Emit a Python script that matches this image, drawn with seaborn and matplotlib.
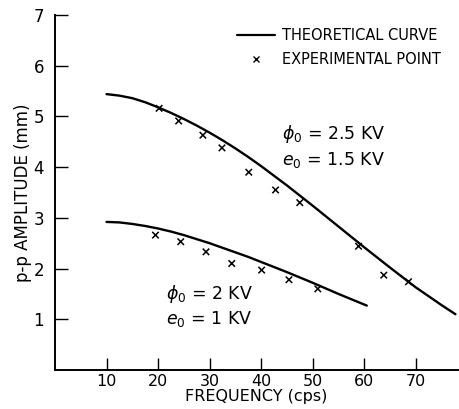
import matplotlib
matplotlib.use("Agg")
import matplotlib.pyplot as plt
import matplotlib.patheffects as pe
from matplotlib.lines import Line2D
import pandas as pd
import seaborn as sns

sns.set_style("ticks")
plt.rcParams['font.family'] = ['DejaVu Sans']
plt.rcParams['mathtext.fontset'] = 'dejavusans'
plt.rcParams['text.color'] = 'black'
plt.rcParams['axes.labelcolor'] = 'black'
plt.rcParams['xtick.color'] = 'black'
plt.rcParams['ytick.color'] = 'black'

# theoretical curves
upper_freq = [10, 12.5, 15, 17.5, 20, 22.5, 25, 27.5, 30, 32.5, 35, 37.5, 40,
              45, 50, 55, 60, 65, 70, 75, 77.7]
upper_amp = [5.44, 5.41, 5.36, 5.28, 5.18, 5.07, 4.95, 4.82, 4.68, 4.53, 4.37,
             4.2, 4.02, 3.64, 3.24, 2.83, 2.42, 2.02, 1.63, 1.28, 1.1]
lower_freq = [10, 12.5, 15, 17.5, 20, 22.5, 25, 27.5, 30, 32.5, 35, 37.5, 40,
              45, 50, 55, 60.5]
lower_amp = [2.92, 2.91, 2.88, 2.84, 2.79, 2.73, 2.66, 2.58, 2.5, 2.41, 2.32,
             2.23, 2.13, 1.93, 1.72, 1.5, 1.27]

# experimental points
upper_pts_freq = [20.2, 24, 28.7, 32.4, 37.6, 42.8, 47.5, 58.9, 63.8, 68.6]
upper_pts_amp = [5.16, 4.91, 4.63, 4.38, 3.9, 3.55, 3.3, 2.44, 1.87, 1.74]
lower_pts_freq = [19.5, 24.4, 29.3, 34.3, 40.1, 45.4, 51]
lower_pts_amp = [2.66, 2.53, 2.33, 2.1, 1.97, 1.78, 1.6]

x_ticks = [10, 20, 30, 40, 50, 60, 70]
y_ticks = [1, 2, 3, 4, 5, 6, 7]

curves = pd.concat([
    pd.DataFrame({'freq': upper_freq, 'amp': upper_amp, 'set': 'upper'}),
    pd.DataFrame({'freq': lower_freq, 'amp': lower_amp, 'set': 'lower'}),
])
points = pd.concat([
    pd.DataFrame({'freq': upper_pts_freq, 'amp': upper_pts_amp}),
    pd.DataFrame({'freq': lower_pts_freq, 'amp': lower_pts_amp}),
])

fig = plt.figure(figsize=(4.59, 4.09), dpi=100)
ax = fig.add_axes([55 / 459, 1 - 370 / 409, 403 / 459, 355 / 409])

for name, grp in curves.groupby('set'):
    sns.lineplot(data=grp, x='freq', y='amp', ax=ax, color='black', lw=1.7,
                 legend=False)

# white halo so the line breaks around each x, like the original
sns.scatterplot(data=points, x='freq', y='amp', ax=ax, marker='x', color='black',
                s=22, linewidth=1.1, legend=False,
                path_effects=[pe.Stroke(linewidth=4, foreground='white'), pe.Normal()])

ax.set_xlim(0, 78.2)
ax.set_ylim(0, 7)
ax.set_xticks(x_ticks)
ax.set_yticks(y_ticks)
ax.tick_params(direction='in', length=9, width=1, labelsize=11.5, pad=3)
ax.tick_params(axis='y', pad=8, labelsize=12)
sns.despine(ax=ax)
for s in ['left', 'bottom']:
    ax.spines[s].set_linewidth(1.4)
    ax.spines[s].set_color('black')

ax.set_xlabel('FREQUENCY (cps)', fontsize=11.5, labelpad=0)
ax.set_ylabel('p-p AMPLITUDE (mm)', fontsize=12, labelpad=1)

handles = [Line2D([], [], color='black', lw=1.6),
           Line2D([], [], color='black', marker='x', ls='none', markersize=5)]
ax.legend(handles, ['THEORETICAL CURVE', 'EXPERIMENTAL POINT'], frameon=False,
          loc='upper right', bbox_to_anchor=(0.99, 1.0), fontsize=10.5,
          handlelength=2.6, handletextpad=0.5, labelspacing=0.6)

ax.text(44, 4.55, r'$\phi_0$ = 2.5 KV', fontsize=12.5)
ax.text(44, 4.05, r'$e_0$ = 1.5 KV', fontsize=12.5)
ax.text(21.5, 1.4, r'$\phi_0$ = 2 KV', fontsize=12.5)
ax.text(21.5, 0.9, r'$e_0$ = 1 KV', fontsize=12.5)

fig.savefig('out.png', dpi=100)
